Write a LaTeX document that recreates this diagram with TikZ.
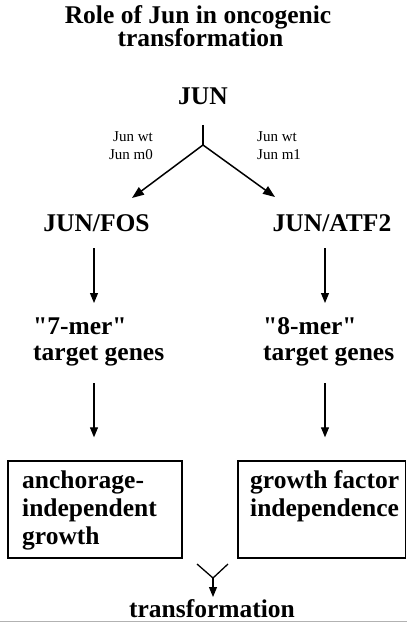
\documentclass[tikz,border=0pt]{standalone}
\usepackage{fontspec}
\setmainfont{Liberation Serif}
\newfontfamily\qfont{Liberation Serif}
\usetikzlibrary{arrows.meta}
\newcommand{\mlleft}[1]{\begin{tabular}[t]{@{}l@{}}#1\end{tabular}}
\newcommand{\mlright}[1]{\begin{tabular}[t]{@{}r@{}}#1\end{tabular}}
\newcommand{\dq}{{\qfont"}}
\begin{document}
\begin{tikzpicture}[x=1pt,y=-1pt,
  big/.style={font=\fontsize{25.5}{26}\selectfont\bfseries, inner sep=0pt},
  small/.style={font=\fontsize{15}{18}\selectfont, inner sep=0pt},
  arr/.style={line width=1.1pt, -{Triangle[length=10pt,width=8pt]}},
  diag/.style={line width=1.5pt, -{Triangle[length=12pt,width=9pt]}},
  boxstyle/.style={draw, line width=1.4pt, inner sep=0pt}
]
\useasboundingbox (0,0) rectangle (407,628);
% title
\node[big, anchor=base] (title1) at (198,23.5) {Role of Jun in oncogenic};
\node[big, anchor=base] (title2) at (200.5,46.5) {transformation};
% JUN
\node[big, anchor=base] (jun) at (203,105) {JUN};
\coordinate (split) at (203,145);
\coordinate (tipL) at (132,198);
\coordinate (tipR) at (275,197);
\draw[line width=1.3pt] ([yshift=-20pt]jun.base) -- (split);
\draw[diag] (split) -- (tipL);
\draw[diag] (split) -- (tipR);
\node[small, anchor=base east] (labL) at (153,142) {\mlright{Jun wt\\Jun m0}};
\node[small, anchor=base west] (labR) at (257,142) {\mlleft{Jun wt\\Jun m1}};
% dimers
\node[big, anchor=base] (fos) at (96.5,231) {JUN/FOS};
\node[big, anchor=base] (atf) at (332,231) {JUN/ATF2};
\coordinate (colL) at (94,0);
\coordinate (colR) at (325,0);
% target genes
\node[big, anchor=base west] (m7) at (33,334) {\mlleft{\dq7-mer\dq\\target genes}};
\node[big, anchor=base west] (m8) at (263,334) {\mlleft{\dq8-mer\dq\\target genes}};
\draw[arr] ([yshift=-17pt]fos.base -| colL) -- ([yshift=31pt]m7.base -| colL);
\draw[arr] ([yshift=-17pt]atf.base -| colR) -- ([yshift=31pt]m8.base -| colR);
% boxes
\node[boxstyle, minimum width=174pt, minimum height=97pt] (boxL) at (95,509.5) {};
\node[boxstyle, minimum width=167.5pt, minimum height=97pt] (boxR) at (321.75,509.5) {};
\node[big, anchor=base west, font=\fontsize{25.5}{28}\selectfont\bfseries] (txtL) at (22,488) {\mlleft{anchorage-\\independent\\growth}};
\node[big, anchor=base west, font=\fontsize{25.5}{28}\selectfont\bfseries] (txtR) at (250,488) {\mlleft{growth factor\\independence}};
\draw[arr] ([yshift=-49pt]m7.base -| colL) -- ([yshift=23pt]boxL.north -| colL);
\draw[arr] ([yshift=-49pt]m8.base -| colR) -- ([yshift=23pt]boxR.north -| colR);
% merge
\coordinate (yL) at (197,564);
\coordinate (yR) at (228,564);
\coordinate (ymid) at (213,578);
\node[big, anchor=base] (transf) at (212,617) {transformation};
\draw[line width=1.3pt] (yL) -- (ymid) -- (yR);
\draw[arr] (ymid) -- ([yshift=20pt]transf.base -| ymid);
% bottom rule
\draw[gray!60, line width=1pt] (0,621) -- (407,621);
\end{tikzpicture}
\end{document}
